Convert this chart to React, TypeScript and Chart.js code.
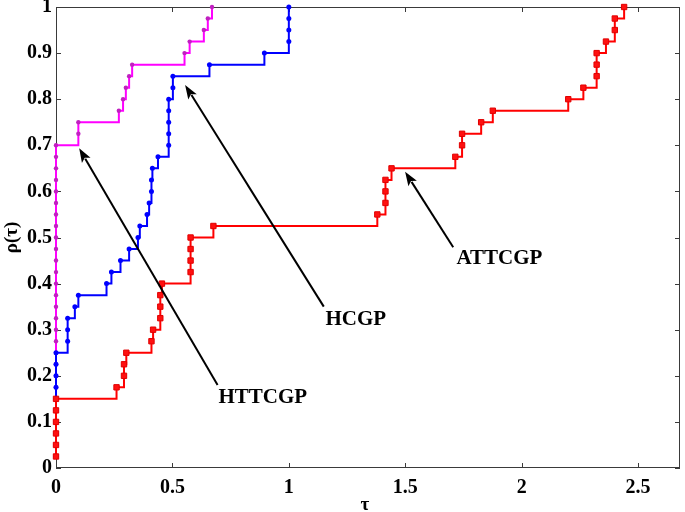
import React, { useEffect, useRef } from "react";
import { Chart, registerables } from "chart.js";

Chart.register(...registerables);

// ---- data ----
const rhoLevels = [
  0.025, 0.05, 0.075, 0.1, 0.125, 0.15, 0.175, 0.2, 0.225, 0.25,
  0.275, 0.3, 0.325, 0.35, 0.375, 0.4, 0.425, 0.45, 0.475, 0.5,
  0.525, 0.55, 0.575, 0.6, 0.625, 0.65, 0.675, 0.7, 0.725, 0.75,
  0.775, 0.8, 0.825, 0.85, 0.875, 0.9, 0.925, 0.95, 0.975, 1.0,
];

const attcgpTau = [
  0, 0, 0, 0, 0, 0, 0.26, 0.292, 0.292, 0.302,
  0.41, 0.417, 0.448, 0.448, 0.448, 0.455, 0.578, 0.578, 0.578, 0.578,
  0.676, 1.38, 1.415, 1.415, 1.415, 1.441, 1.715, 1.744, 1.744, 1.826,
  1.876, 2.2, 2.265, 2.322, 2.322, 2.322, 2.362, 2.4, 2.4, 2.44,
];

const hcgpTau = [
  0, 0, 0, 0, 0, 0, 0, 0, 0, 0,
  0.05, 0.05, 0.05, 0.081, 0.096, 0.217, 0.238, 0.277, 0.314, 0.352,
  0.36, 0.391, 0.4, 0.41, 0.41, 0.414, 0.438, 0.484, 0.484, 0.484,
  0.484, 0.484, 0.502, 0.502, 0.659, 0.895, 1.0, 1.0, 1.0, 1.0,
];

const httcgpTau = [
  0, 0, 0, 0, 0, 0, 0, 0, 0, 0,
  0, 0, 0, 0, 0, 0, 0, 0, 0, 0,
  0, 0, 0, 0, 0, 0, 0, 0, 0.096, 0.096,
  0.27, 0.288, 0.3, 0.314, 0.327, 0.552, 0.574, 0.635, 0.652, 0.67,
];

const xTickValues = [0, 0.5, 1, 1.5, 2, 2.5];
const yTickValues = [0, 0.1, 0.2, 0.3, 0.4, 0.5, 0.6, 0.7, 0.8, 0.9, 1];
const xLimits = [0, 2.68];
const yLimits = [0, 1];

const xTitle = "τ";
const yTitle = "ρ(τ)";

const annotationLabels = ["HTTCGP", "HCGP", "ATTCGP"];
const arrowTips = [
  [0.0996, 0.6935],
  [0.5545, 0.831],
  [1.4994, 0.6427],
];
const arrowTails = [
  [0.694, 0.18],
  [1.15, 0.35],
  [1.706, 0.4787],
];
const labelAnchors = [
  [0.698, 0.153],
  [1.157, 0.3217],
  [1.72, 0.4534],
];

const FONT = '"Liberation Serif", "Times New Roman", serif';

const toPoints = (taus: number[]) => taus.map((t, i) => ({ x: t, y: rhoLevels[i] }));

const frameAndTicks = {
  id: "frameAndTicks",
  beforeDatasetsDraw(chart: any) {
    const { ctx, chartArea: a, scales } = chart;
    const xs = scales.x;
    const ys = scales.y;
    ctx.save();
    ctx.strokeStyle = "#3a3a3a";
    ctx.lineWidth = 1;
    ctx.strokeRect(a.left + 0.5, a.top + 0.5, a.right - a.left - 1, a.bottom - a.top - 1);
    ctx.beginPath();
    const tl = 5;
    xTickValues.forEach((v) => {
      const px = Math.round(xs.getPixelForValue(v)) + 0.5;
      ctx.moveTo(px, a.bottom);
      ctx.lineTo(px, a.bottom - tl);
      ctx.moveTo(px, a.top);
      ctx.lineTo(px, a.top + tl);
    });
    yTickValues.forEach((v) => {
      const py = Math.round(ys.getPixelForValue(v)) + 0.5;
      ctx.moveTo(a.left, py);
      ctx.lineTo(a.left + tl, py);
      ctx.moveTo(a.right, py);
      ctx.lineTo(a.right - tl, py);
    });
    ctx.stroke();
    ctx.restore();
  },
  afterDatasetsDraw(chart: any) {
    const { ctx, scales } = chart;
    const xs = scales.x;
    const ys = scales.y;
    ctx.save();
    ctx.strokeStyle = "#000";
    ctx.fillStyle = "#000";
    ctx.lineWidth = 2;
    for (let i = 0; i < arrowTips.length; i++) {
      const tx = xs.getPixelForValue(arrowTips[i][0]);
      const ty = ys.getPixelForValue(arrowTips[i][1]);
      const sx = xs.getPixelForValue(arrowTails[i][0]);
      const sy = ys.getPixelForValue(arrowTails[i][1]);
      const ang = Math.atan2(ty - sy, tx - sx);
      const headLen = 14;
      const headHalf = 5;
      const bx = tx - headLen * Math.cos(ang);
      const by = ty - headLen * Math.sin(ang);
      ctx.beginPath();
      ctx.moveTo(sx, sy);
      ctx.lineTo(bx + 2 * Math.cos(ang), by + 2 * Math.sin(ang));
      ctx.stroke();
      ctx.beginPath();
      ctx.moveTo(tx, ty);
      ctx.lineTo(bx - headHalf * Math.sin(ang), by + headHalf * Math.cos(ang));
      ctx.lineTo(bx + 3 * Math.cos(ang), by + 3 * Math.sin(ang));
      ctx.lineTo(bx + headHalf * Math.sin(ang), by - headHalf * Math.cos(ang));
      ctx.closePath();
      ctx.fill();
    }
    ctx.font = `bold 21px ${FONT}`;
    ctx.textAlign = "left";
    ctx.textBaseline = "middle";
    annotationLabels.forEach((lab, i) => {
      ctx.fillText(lab, xs.getPixelForValue(labelAnchors[i][0]), ys.getPixelForValue(labelAnchors[i][1]));
    });
    ctx.restore();
  },
  afterDraw(chart: any) {
    const { ctx, chartArea: a } = chart;
    ctx.save();
    ctx.fillStyle = "#000";
    ctx.font = `bold 19px ${FONT}`;
    ctx.textAlign = "center";
    ctx.textBaseline = "middle";
    ctx.fillText(xTitle, 365, 505);
    ctx.translate(12, (a.top + a.bottom) / 2);
    ctx.rotate(-Math.PI / 2);
    ctx.fillText(yTitle, 0, 0);
    ctx.restore();
  },
};

export default function App() {
  const ref = useRef<HTMLCanvasElement | null>(null);
  useEffect(() => {
    if (!ref.current) return;
    const chart = new Chart(ref.current, {
      type: "line",
      data: {
        datasets: [
          {
            label: "ATTCGP",
            data: toPoints(attcgpTau),
            borderColor: "#ff0000",
            backgroundColor: "#ff1010",
            borderWidth: 2,
            stepped: "before",
            pointStyle: "rect",
            pointRadius: 3.8,
            pointBorderColor: "#e00000",
            pointBorderWidth: 1,
            clip: false,
          },
          {
            label: "HCGP",
            data: toPoints(hcgpTau),
            borderColor: "#0000ff",
            backgroundColor: "#0000ff",
            borderWidth: 2,
            stepped: "before",
            pointStyle: "circle",
            pointRadius: 2.5,
            pointBorderWidth: 0,
            clip: false,
          },
          {
            label: "HTTCGP",
            data: toPoints(httcgpTau),
            borderColor: "#ff00ff",
            backgroundColor: "#c020c0",
            borderWidth: 2,
            stepped: "before",
            pointStyle: "circle",
            pointRadius: 2.2,
            pointBorderWidth: 0,
            clip: false,
          },
        ],
      },
      options: {
        animation: false,
        responsive: false,
        devicePixelRatio: 1,
        parsing: false as any,
        layout: { padding: { top: 7, right: 2, left: 0, bottom: 0 } },
        plugins: { legend: { display: false }, tooltip: { enabled: false } },
        scales: {
          x: {
            type: "linear",
            min: xLimits[0],
            max: xLimits[1],
            grid: { display: false, drawTicks: false },
            border: { display: false },
            ticks: {
              autoSkip: false,
              includeBounds: false,
              maxRotation: 0,
              padding: 8,
              color: "#000",
              font: { family: FONT, size: 20, weight: "bold" },
              callback: (v: any) => String(Math.round(Number(v) * 10) / 10),
            },
            afterBuildTicks: (s: any) => {
              s.ticks = xTickValues.map((v) => ({ value: v }));
            },
            afterFit: (s: any) => {
              s.height = 44;
              s.paddingLeft = 0;
              s.paddingRight = 0;
            },
          },
          y: {
            type: "linear",
            min: yLimits[0],
            max: yLimits[1],
            grid: { display: false, drawTicks: false },
            border: { display: false },
            ticks: {
              autoSkip: false,
              includeBounds: false,
              padding: 4,
              color: "#000",
              font: { family: FONT, size: 20, weight: "bold" },
              callback: (v: any) => String(Math.round(Number(v) * 10) / 10),
            },
            afterBuildTicks: (s: any) => {
              s.ticks = yTickValues.map((v) => ({ value: v }));
            },
            afterFit: (s: any) => {
              s.width = 56;
              s.paddingTop = 0;
              s.paddingBottom = 0;
            },
          },
        },
      },
      plugins: [frameAndTicks],
    } as any);
    return () => chart.destroy();
  }, []);
  return (
    <div style={{ position: "absolute", left: 0, top: 0, width: 685, height: 512, background: "#fff" }}>
      <canvas ref={ref} width={685} height={512} />
    </div>
  );
}
